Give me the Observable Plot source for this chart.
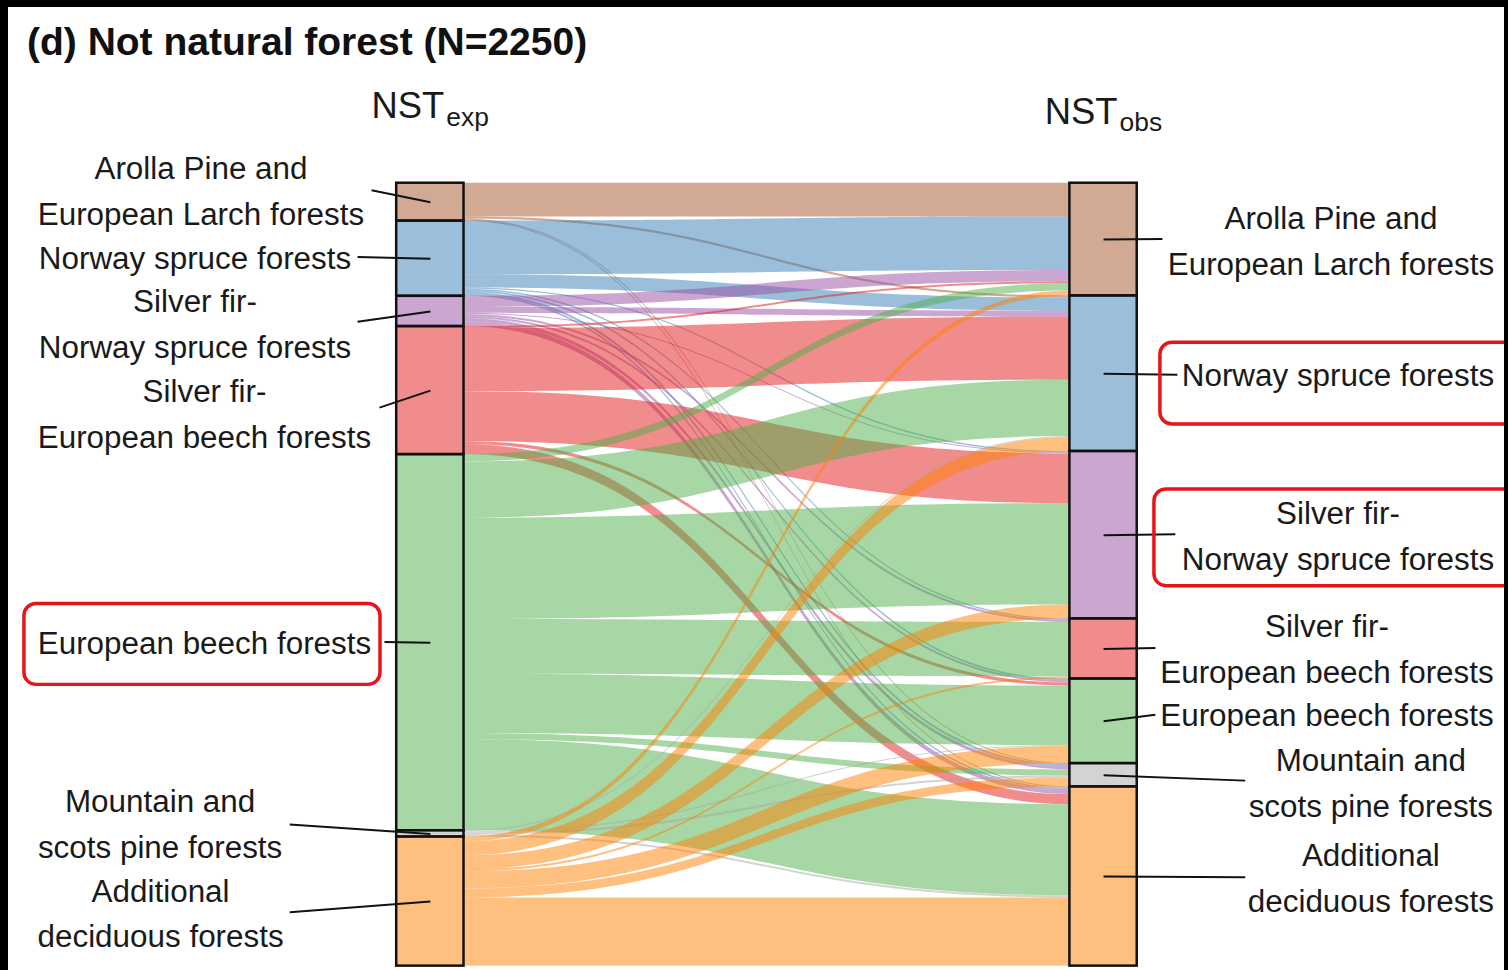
<!DOCTYPE html>
<html><head><meta charset="utf-8">
<script src="https://cdn.jsdelivr.net/npm/d3@7"></script>
<script src="https://cdn.jsdelivr.net/npm/@observablehq/plot@0.6"></script>
<style>
html,body{margin:0;padding:0;background:#000;width:1508px;height:970px;overflow:hidden;}
#panel{position:absolute;left:8px;top:7px;width:1496px;height:963px;background:#fff;overflow:hidden;}
#title{position:absolute;left:19px;top:15px;font:bold 39px "Liberation Sans",Arial,sans-serif;line-height:39px;color:#111;white-space:nowrap;}
#chart{position:absolute;left:-8px;top:68px;}
</style></head><body>
<div id="panel"><div id="title">(d) Not natural forest (N=2250)</div><div id="chart"></div></div>
<script>
// ---- data: forest types (top to bottom) and flows NSTexp -> NSTobs (counts) ----
const categories = [
  "Arolla Pine and European Larch forests",
  "Norway spruce forests",
  "Silver fir-Norway spruce forests",
  "Silver fir-European beech forests",
  "European beech forests",
  "Mountain and scots pine forests",
  "Additional deciduous forests"
];
const labelTexts = [
  "Arolla Pine and\nEuropean Larch forests",
  "Norway spruce forests",
  "Silver fir-\nNorway spruce forests",
  "Silver fir-\nEuropean beech forests",
  "European beech forests",
  "Mountain and\nscots pine forests",
  "Additional\ndeciduous forests"
];
// each row: expected type -> observed types (same order as categories)
const fromArolla          = [97,   6,   0,   0,   0,  3,   3];
const fromNorwaySpruce    = [154, 38,   4,   4,   5,  6,   5];
const fromSilverFirSpruce = [32,  17,   3,   6,   6,  9,  14];
const fromSilverFirBeech  = [6,  181, 143,   0,   9,  0,  29];
const fromBeech           = [21, 162, 291, 157, 171, 17, 262];
const fromMountainPine    = [0,    3,   0,   0,   3,  6,   6];
const fromDeciduous       = [14,  40,  40,   6,  49, 26, 196];
const flowRows = [fromArolla, fromNorwaySpruce, fromSilverFirSpruce, fromSilverFirBeech, fromBeech, fromMountainPine, fromDeciduous];

// ---- styling / layout ----
const colors = ["#A65628", "#377EB8", "#984EA3", "#E41A1C", "#4DAF4A", "#A8A8A8", "#FF7F00"];
const N = d3.sum(flowRows.flat());
const half = 0.05; // half node width (x units)
const px2x = px => (px - 431) / 675;          // annotation layout helpers
const py2y = py => (py - 183) * N / 785;

const leftLabelPos  = [[201,187],[195,254],[195,320.5],[204.5,411],[204.5,640],[160,822],[160.5,911.5]];
const rightLabelPos = [[1334,237],[1341,372],[1341,533],[1330,646],[1330,713],[1374,781],[1374,876]];
const leftLeaderEnd  = [[372,190],[358,257],[358,322],[380,408],[385,643],[290,826],[290,914]];
const rightLeaderEnd = [[1165,239],[1180,375],[1178,535],[1158,649],[1158,716],[1248,782],[1248,879]];
const boxes = [[24,605,381,686],[1163,343,1530,425],[1157,490,1530,587]];

// ---- derived geometry ----
const k = categories.length;
const leftTot = flowRows.map(r => d3.sum(r));
const rightTot = categories.map((_, j) => d3.sum(flowRows, r => r[j]));
function stackNodes(tot, x1, x2) {
  let acc = 0;
  return tot.map((v, i) => { const n = {cat: categories[i], i, x1, x2, y1: acc, y2: acc + v}; acc += v; return n; });
}
const leftNodes = stackNodes(leftTot, -half, half);
const rightNodes = stackNodes(rightTot, 1 - half, 1 + half);
const lpos = flowRows.map(r => r.slice()), rpos = flowRows.map(r => r.slice());
for (let i = 0; i < k; i++) { let y = leftNodes[i].y1; for (let j = 0; j < k; j++) { lpos[i][j] = y; y += flowRows[i][j]; } }
for (let j = 0; j < k; j++) { let y = rightNodes[j].y1; for (let i = 0; i < k; i++) { rpos[i][j] = y; y += flowRows[i][j]; } }
const flowPts = [];
for (let i = 0; i < k; i++) for (let j = 0; j < k; j++) {
  const v = flowRows[i][j];
  if (v <= 0) continue;
  const id = i + "-" + j;
  flowPts.push({id, cat: categories[i], x: half, y1: lpos[i][j], y2: lpos[i][j] + v});
  flowPts.push({id, cat: categories[i], x: 1 - half, y1: rpos[i][j], y2: rpos[i][j] + v});
}
const mid = n => (n.y1 + n.y2) / 2;
const labels = [
  ...leftLabelPos.map((p, i) => ({x: px2x(p[0]), y: py2y(p[1]), text: labelTexts[i]})),
  ...rightLabelPos.map((p, i) => ({x: px2x(p[0]), y: py2y(p[1]), text: labelTexts[i]}))
];
const leaders = [
  ...leftNodes.map((n, i) => ({x1: 0, y1: mid(n), x2: px2x(leftLeaderEnd[i][0]), y2: py2y(leftLeaderEnd[i][1])})),
  ...rightNodes.map((n, i) => ({x1: 1, y1: mid(n), x2: px2x(rightLeaderEnd[i][0]), y2: py2y(rightLeaderEnd[i][1])}))
];
const boxData = boxes.map(b => ({x1: px2x(b[0]), y1: py2y(b[1]), x2: px2x(b[2]), y2: py2y(b[3])}));
const axisTitles = [
  {x: 0, y: py2y(105.5), t: "NST", anchor: "end"},
  {x: 0, y: py2y(117), t: "exp", anchor: "start"},
  {x: 1, y: py2y(111.5), t: "NST", anchor: "end"},
  {x: 1, y: py2y(122.5), t: "obs", anchor: "start"}
];

const chart = Plot.plot({
  width: 1508,
  height: 895,
  margin: 0,
  style: {background: "transparent", fontFamily: "'Liberation Sans', Arial, sans-serif", color: "#1a1a1a"},
  x: {domain: [0, 1], range: [431, 1106], axis: null},
  y: {domain: [0, N], range: [108, 893], axis: null},
  color: {domain: categories, range: colors},
  marks: [
    Plot.area(flowPts, {x1: "x", y1: "y1", y2: "y2", z: "id", fill: "cat", fillOpacity: 0.5, curve: "bump-x"}),
    Plot.rect([...leftNodes, ...rightNodes], {x1: "x1", x2: "x2", y1: "y1", y2: "y2", fill: "cat", fillOpacity: 0.5, stroke: "#111", strokeWidth: 2.5}),
    Plot.link(leaders, {x1: "x1", y1: "y1", x2: "x2", y2: "y2", stroke: "#111", strokeWidth: 2}),
    Plot.text(labels, {x: "x", y: "y", text: "text", fontSize: 31.5, lineHeight: 1.46, textAnchor: "middle", fill: "#1a1a1a"}),
    Plot.text(axisTitles.filter(d => d.anchor === "end"), {x: "x", y: "y", text: "t", fontSize: 36.5, textAnchor: "end", dx: 14, fill: "#1a1a1a"}),
    Plot.text(axisTitles.filter(d => d.anchor === "start"), {x: "x", y: "y", text: "t", fontSize: 26.5, textAnchor: "start", dx: 16, fill: "#1a1a1a"}),
    Plot.rect(boxData, {x1: "x1", x2: "x2", y1: "y1", y2: "y2", fill: "none", stroke: "#e8141a", strokeWidth: 3.5, rx: 12})
  ]
});
document.getElementById("chart").appendChild(chart);
</script></body></html>
